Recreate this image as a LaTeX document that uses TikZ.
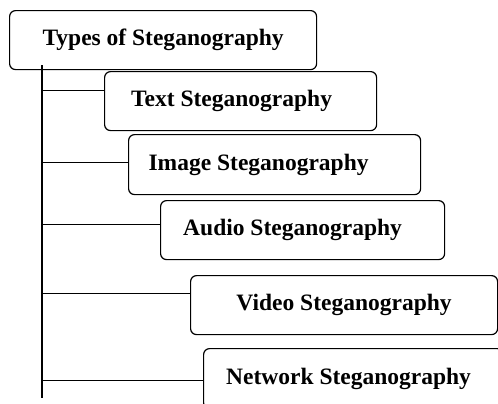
\documentclass[tikz,border=0pt]{standalone}
\usepackage{fontspec}
\setmainfont{Liberation Serif}
\begin{document}
\begin{tikzpicture}[x=1bp,y=-1bp,line width=1.2bp,
    typebox/.style={draw,rounded corners=6bp,anchor=north west,inner sep=0pt,
        font=\fontsize{23.5bp}{26bp}\selectfont\bfseries},
    textshift/.style={execute at begin node=\hspace*{#1}}]
    \useasboundingbox (0,0) rectangle (498,403);
    \node[typebox,minimum width=307bp,minimum height=59bp] (types) at (9,10) {Types of Steganography};
    \node[typebox,minimum width=272bp,minimum height=59bp,textshift=-18bp] (txt) at (104,71) {Text Steganography};
    \node[typebox,minimum width=292bp,minimum height=60bp,textshift=-32bp] (img) at (128,134) {Image Steganography};
    \node[typebox,minimum width=284bp,minimum height=59bp,textshift=-20bp] (aud) at (160,200) {Audio Steganography};
    \node[typebox,minimum width=307bp,minimum height=59bp] (vid) at (190,275) {Video Steganography};
    \node[typebox,minimum width=300bp,minimum height=60bp,textshift=-10bp] (net) at (203,348) {Network Steganography};
    % trunk
    \coordinate (top) at (42,65);
    \coordinate (bot) at (42,398);
    \draw (top) -- (bot);
    % branches
    \coordinate (b1) at ([yshift=10.5bp]txt.west);
    \coordinate (b2) at ([yshift=2bp]img.west);
    \coordinate (b3) at ([yshift=5.5bp]aud.west);
    \coordinate (b4) at ([yshift=11.5bp]vid.west);
    \coordinate (b5) at ([yshift=-2bp]net.west);
    \draw (top |- b1) -- (b1);
    \draw (top |- b2) -- (b2);
    \draw (top |- b3) -- (b3);
    \draw (top |- b4) -- (b4);
    \draw (top |- b5) -- (b5);
\end{tikzpicture}
\end{document}
